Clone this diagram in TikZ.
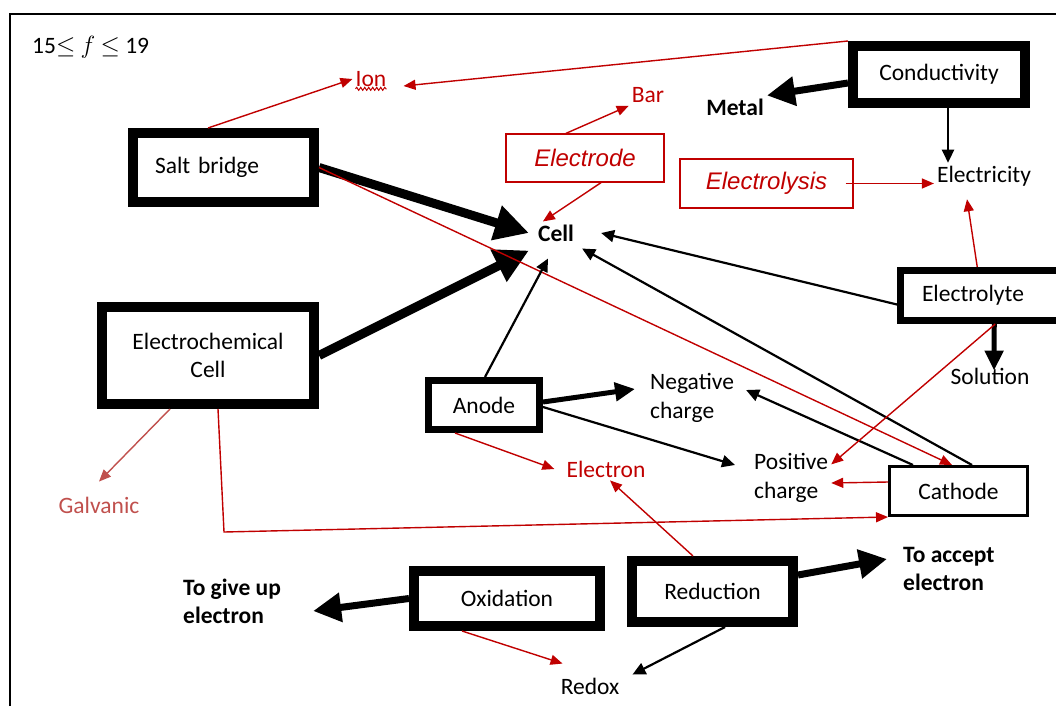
\documentclass[tikz,border=0pt]{standalone}
\usepackage{fontspec}
\setmainfont{Carlito}
\newfontfamily\arialfont{Liberation Sans}
\usetikzlibrary{arrows.meta,decorations.pathmorphing}
\definecolor{cred}{RGB}{192,0,0}
\definecolor{cpale}{RGB}{192,80,77}
\tikzset{
  conc/.style={x=1pt,y=-1pt,font=\fontsize{23.5}{28.5}\selectfont},
  txt/.style={inner sep=3pt,align=left},
  boldtxt/.style={txt,font=\fontsize{23.5}{28}\selectfont\bfseries},
  heavybox/.style={draw,line width=10pt,fill=white,inner sep=0pt,align=center},
  redbox/.style={draw=cred,line width=1.3pt,text=cred,inner sep=0pt,
    font=\fontsize{24}{28}\arialfont\itshape},
  plainarr/.style={-{Triangle[length=13pt,width=12pt]},line width=2.2pt},
  redline/.style={cred,-{Triangle[length=12pt,width=10pt]},line width=1.4pt},
  palearr/.style={cpale,-{Triangle[length=12pt,width=10pt]},line width=1.4pt},
  fatarr/.style={-{Triangle[length=34pt,width=34pt]},line width=9pt},
  widearr/.style={-{Triangle[length=28pt,width=28pt]},line width=7pt},
  midarr/.style={-{Triangle[length=20pt,width=18pt]},line width=5pt},
}

\begin{document}
\begin{tikzpicture}[conc]
  \useasboundingbox (0,0) rectangle (1056,706);
  \clip (0,0) rectangle (1056,706);
  \draw[line width=2pt] (10,706) -- (10,14) -- (1056,14);
  \node[txt,anchor=west] (range) at (29,47) {15$\leq$\ $f$\ $\leq$ 19};
  % boxes
  \node[heavybox,minimum width=181pt,minimum height=69pt,text width=137pt,align=left] (salt) at (223.5,167.5) {Salt bridge};
  \node[heavybox,minimum width=212pt,minimum height=97pt] (ecell) at (208,355.5) {Electrochemical\\Cell};
  \node[heavybox,minimum width=172pt,minimum height=57pt] (cond) at (939,74.5) {Conductivity};
  \node[heavybox,line width=7pt,minimum width=179.5pt,minimum height=50pt,text width=136.5pt,align=left] (electrolyte) at (990.25,295.5) {Electrolyte};
  \node[heavybox,line width=7pt,minimum width=111pt,minimum height=49pt] (anode) at (484,405) {Anode};
  \node[heavybox,line width=3pt,minimum width=138pt,minimum height=49pt] (cathode) at (958.5,491) {Cathode};
  \node[heavybox,minimum width=186pt,minimum height=55pt] (oxid) at (507,598.5) {Oxidation};
  \node[heavybox,minimum width=161pt,minimum height=61pt] (reduc) at (712.5,591.5) {Reduction};
  \node[redbox,minimum width=158pt,minimum height=48pt] (electrode) at (585,158) {Electrode};
  \node[redbox,minimum width=173pt,minimum height=49pt] (electrolysis) at (766.5,183.5) {Electrolysis};
  % words
  \node[txt,cred] (ion) at (371,79) {Ion};
  \node[txt,cred] (bar) at (648,95) {Bar};
  \node[boldtxt] (metal) at (735,107) {Metal};
  \node[boldtxt] (cell) at (556,233) {Cell};
  \node[txt] (electricity) at (984,176) {Electricity};
  \node[txt] (solution) at (990,376) {Solution};
  \node[txt,anchor=west] (negative) at (647,398) {Negative\\charge};
  \node[txt,anchor=west] (positive) at (751,478) {Positive\\charge};
  \node[txt,cred] (electron) at (606,469) {Electron};
  \node[txt,cpale] (galvanic) at (99,505) {Galvanic};
  \node[boldtxt,anchor=west] (giveup) at (180,601) {To give up\\electron};
  \node[boldtxt,anchor=west] (accept) at (900,569) {To accept\\electron};
  \node[txt] (redox) at (590,686) {Redox};
  \coordinate (bend) at (224,532);
  \draw[cred,line width=1pt,decorate,decoration={snake,amplitude=1.5pt,segment length=4pt}]
    ([xshift=3pt,yshift=1pt]ion.south west) -- ([xshift=-3pt,yshift=1pt]ion.south east);
  % connectors
  \draw[redline] ([xshift=-15.5pt]salt.north) -- (ion.west);
  \draw[redline] (cond.north west) -- ([shift={(14,7)}]ion.east);
  \draw[widearr] ([yshift=-8.5pt]cond.west) -- (metal.north east);
  \draw[plainarr] ([xshift=9pt]cond.south) -- ([xshift=9pt]cond.south |- electricity.north);
  \draw[redline] ([xshift=-8pt]electrolysis.east) -- (electricity.west |- electrolysis.east);
  \draw[redline] ([xshift=-19pt]electrode.north) -- (bar.south west);
  \draw[redline] ([xshift=16pt]electrode.south) -- ([xshift=8pt]cell.north west);
  \draw[fatarr] (salt.east) -- ([xshift=-6pt]cell.west);
  \draw[fatarr] (ecell.east) -- ([xshift=-6pt,yshift=-6pt]cell.south west);
  \draw[redline] (salt.east) -- ([xshift=-6.5pt]cathode.north);
  \draw[plainarr] ([yshift=-9pt]electrolyte.west) -- ([xshift=24pt]cell.east);
  \draw[plainarr] ([xshift=13.5pt]cathode.north) -- ([shift={(5,4)}]cell.south east);
  \draw[plainarr] ([xshift=-45.5pt]cathode.north) -- ([shift={(9,-8)}]negative.east);
  \draw[midarr] ([xshift=4pt]electrolyte.south) -- ([xshift=4pt,yshift=-6pt]solution.north);
  \draw[redline] ([xshift=-13pt]electrolyte.north) -- ([shift={(-17,10)}]electricity.south);
  \draw[redline] ([xshift=5pt]electrolyte.south) -- ([yshift=-14pt]positive.north east);
  \draw[redline] ([yshift=9pt]cathode.west) -- ([yshift=-5pt]positive.east);
  \draw[plainarr] ([xshift=1pt]anode.north) -- ([shift={(-8,14)}]cell.south);
  \draw[midarr] ([yshift=3pt]anode.east) -- ([shift={(-12,-9)}]negative.west);
  \draw[plainarr] ([yshift=-2pt]anode.east) -- ([shift={(-16,-13)}]positive.west);
  \draw[redline] ([xshift=-29pt]anode.south) -- ([xshift=-9pt]electron.west);
  \draw[redline] ([xshift=-19.5pt]reduc.north) -- ([xshift=4pt]electron.south);
  \draw[palearr] ([xshift=-38pt]ecell.south) -- ([yshift=12pt]galvanic.north);
  \draw[redline] ([xshift=10pt]ecell.south) -- (bend) -- (cathode.south west);
  \draw[widearr] (oxid.west) -- ([shift={(29,10)}]giveup.east);
  \draw[widearr] ([yshift=16.5pt]reduc.east) -- ([shift={(-13,-10)}]accept.west);
  \draw[redline] ([xshift=-45pt]oxid.south) -- ([shift={(5,-11)}]redox.north west);
  \draw[plainarr] ([xshift=12.5pt]reduc.south) -- ([xshift=10pt]redox.north east);
\end{tikzpicture}
\end{document}
